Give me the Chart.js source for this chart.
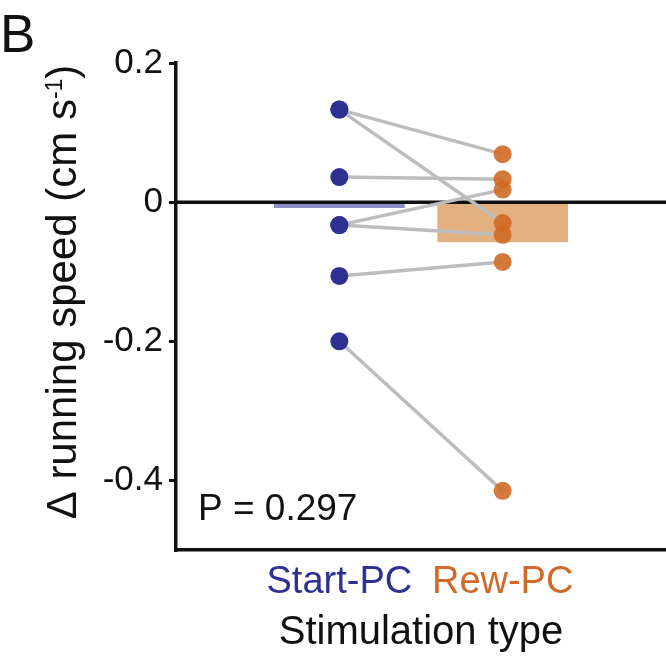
<!DOCTYPE html>
<html>
<head>
<meta charset="utf-8">
<script src="https://cdn.jsdelivr.net/npm/chart.js@4.4.0/dist/chart.umd.min.js"></script>
<style>
  html, body { margin: 0; padding: 0; background: #fff; }
  #wrap { width: 666px; height: 658px; }
</style>
</head>
<body>
<div id="wrap"><canvas id="speedChart" width="666" height="658"></canvas></div>
<script>
// Data
const categories = ["Start-PC", "Rew-PC"];
const categoryColors = ["#2E3192", "#CF6A28"];
const startValues = [0.133, 0.133, 0.036, -0.033, -0.033, -0.106, -0.2];
const rewValues = [0.069, -0.030, 0.033, 0.018, -0.047, -0.086, -0.415];
const barMeans = [-0.008, -0.057];
const yTicks = [0.2, 0, -0.2, -0.4];
const pValueText = "P = 0.297";
const panelLetter = "B";

const FONT = "'Liberation Sans', Arial, Helvetica, sans-serif";

// Paired lines, one dataset per animal
const pairDatasets = startValues.map((s, i) => ({
  type: "line",
  data: [
    { x: 1, y: s },
    { x: 2, y: rewValues[i] },
  ],
  borderColor: "#BDBDBD",
  borderWidth: 3.5,
  pointRadius: 0,
  order: 3,
}));

// Extra text: panel letter, rotated y title with superscript, P value
const annotations = {
  id: "annotations",
  afterDraw(chart) {
    const ctx = chart.ctx;
    ctx.save();
    ctx.fillStyle = "#111";
    ctx.textBaseline = "alphabetic";
    ctx.textAlign = "left";

    ctx.font = `53px ${FONT}`;
    ctx.fillText(panelLetter, 0, 52);

    ctx.font = `37px ${FONT}`;
    ctx.fillText(pValueText, 198, 520);

    // y axis title
    const main = "\u0394 running speed (cm s";
    const sup = "-1";
    const close = ")";
    ctx.font = `42px ${FONT}`;
    const w1 = ctx.measureText(main).width;
    const w3 = ctx.measureText(close).width;
    ctx.font = `23px ${FONT}`;
    const w2 = ctx.measureText(sup).width;
    const total = w1 + w2 + w3;
    ctx.translate(76, 292);
    ctx.rotate(-Math.PI / 2);
    let x = -total / 2;
    ctx.font = `42px ${FONT}`;
    ctx.fillText(main, x, 0);
    x += w1;
    ctx.font = `23px ${FONT}`;
    ctx.fillText(sup, x, -14);
    x += w2;
    ctx.font = `42px ${FONT}`;
    ctx.fillText(close, x, 0);
    ctx.restore();
  },
};

const ctx = document.getElementById("speedChart").getContext("2d");
new Chart(ctx, {
  type: "scatter",
  data: {
    datasets: [
      {
        type: "scatter",
        data: startValues.map((v) => ({ x: 1, y: v })),
        backgroundColor: "#2E3192",
        borderWidth: 0,
        pointRadius: 9,
        order: 1,
      },
      {
        type: "scatter",
        data: rewValues.map((v) => ({ x: 2, y: v })),
        backgroundColor: "rgba(207, 106, 36, 0.9)",
        borderWidth: 0,
        pointRadius: 9,
        order: 1,
      },
      ...pairDatasets,
      {
        type: "line",
        data: [
          { x: 0, y: 0 },
          { x: 3, y: 0 },
        ],
        borderColor: "#111",
        borderWidth: 3.5,
        pointRadius: 0,
        order: 4,
      },
      {
        type: "bar",
        data: barMeans.map((v, i) => ({ x: i + 1, y: v })),
        backgroundColor: ["#8B8EC9", "#E3B07F"],
        barThickness: 130,
        order: 5,
      },
    ],
  },
  options: {
    responsive: false,
    animation: false,
    devicePixelRatio: 1,
    layout: { autoPadding: false, padding: { top: 63, left: 0, right: 0, bottom: 0 } },
    plugins: {
      legend: { display: false },
      tooltip: { enabled: false },
    },
    scales: {
      x: {
        type: "linear",
        min: 0,
        max: 3,
        offset: false,
        afterFit: (s) => {
          s.height = 108;
        },
        afterBuildTicks: (s) => {
          s.ticks = [1, 2].map((v) => ({ value: v }));
        },
        grid: { display: false, drawTicks: false, offset: false },
        border: { display: true, color: "#111", width: 3.5 },
        ticks: {
          padding: 10,
          font: { size: 38, family: FONT },
          color: (c) => categoryColors[c.index],
          callback: (v, i) => categories[i],
          maxRotation: 0,
        },
        title: {
          display: true,
          text: "Stimulation type",
          color: "#111",
          font: { size: 40, family: FONT },
          padding: { top: 0, bottom: 1 },
        },
      },
      y: {
        min: -0.5,
        max: 0.2,
        afterFit: (s) => {
          s.width = 176;
        },
        afterBuildTicks: (s) => {
          s.ticks = yTicks.map((v) => ({ value: v }));
        },
        grid: {
          drawOnChartArea: false,
          drawTicks: true,
          tickLength: 7,
          color: "#111",
          lineWidth: 3,
        },
        border: { display: true, color: "#111", width: 3.5 },
        ticks: {
          padding: 6,
          color: "#111",
          font: { size: 35, family: FONT },
          callback: (v) => (v === 0 ? "0" : v.toFixed(1)),
        },
      },
    },
  },
  plugins: [annotations],
});
</script>
</body>
</html>
